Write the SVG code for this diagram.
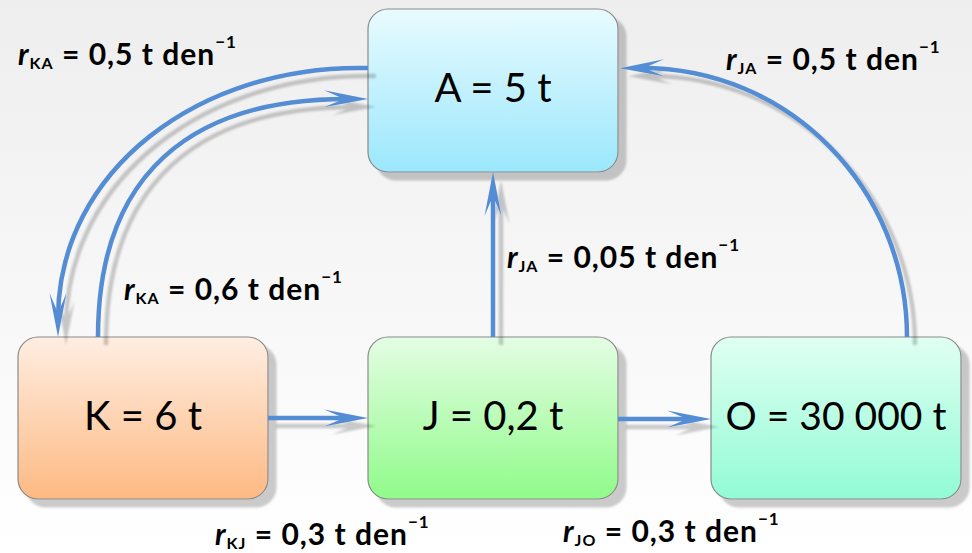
<svg xmlns="http://www.w3.org/2000/svg" width="972" height="553" viewBox="0 0 972 553">
<defs>
  <linearGradient id="bg" x1="0" y1="0" x2="0" y2="1"><stop offset="0" stop-color="#eeeeee"/><stop offset="1" stop-color="#ffffff"/></linearGradient>
  <linearGradient id="gA" x1="0" y1="0" x2="0" y2="1"><stop offset="0" stop-color="#e8fbff"/><stop offset="1" stop-color="#9be7fc"/></linearGradient>
  <linearGradient id="gK" x1="0" y1="0" x2="0" y2="1"><stop offset="0" stop-color="#ffeee2"/><stop offset="1" stop-color="#fdb983"/></linearGradient>
  <linearGradient id="gJ" x1="0" y1="0" x2="0" y2="1"><stop offset="0" stop-color="#e4fde4"/><stop offset="1" stop-color="#90fb8a"/></linearGradient>
  <linearGradient id="gO" x1="0" y1="0" x2="0" y2="1"><stop offset="0" stop-color="#e0fff3"/><stop offset="1" stop-color="#92fbd6"/></linearGradient>
  <filter id="sh" filterUnits="userSpaceOnUse" x="0" y="0" width="972" height="553">
    <feGaussianBlur in="SourceAlpha" stdDeviation="1"/>
    <feOffset dx="8" dy="8"/>
    <feComponentTransfer><feFuncA type="linear" slope="0.2"/></feComponentTransfer>
    <feMerge><feMergeNode/><feMergeNode in="SourceGraphic"/></feMerge>
  </filter>
  <marker id="ah" markerUnits="userSpaceOnUse" markerWidth="46" markerHeight="20" refX="26" refY="9" orient="auto" overflow="visible">
    <path d="M44,9 L0,0.5 L20,9 L0,17.5 Z" fill="#548dd4"/>
  </marker>
</defs>
<style>
  .box{stroke:#8a8a8a;stroke-width:1.2}
  .nt{font-family:Lato,"Open Sans",sans-serif;font-size:40px;fill:#000;text-anchor:middle}
  .con{fill:none;stroke:#548dd4;stroke-width:4.5;marker-end:url(#ah)}
  .lb{font-family:Lato,"Open Sans",sans-serif;font-weight:bold;font-size:30px;letter-spacing:1px;fill:#000}
  .r{font-style:italic}
  .sub{font-size:16px}
  .sup{font-size:17px}
</style>
<rect x="0" y="0" width="972" height="553" fill="url(#bg)"/>

<g id="node-A">
  <rect class="box" x="368" y="9" width="250" height="163" rx="20" fill="url(#gA)" filter="url(#sh)"/>
  <text class="nt" x="493" y="102">A = 5 t</text>
</g>
<g id="node-K">
  <rect class="box" x="18" y="337" width="250" height="162" rx="20" fill="url(#gK)" filter="url(#sh)"/>
  <text class="nt" x="143" y="430">K = 6 t</text>
</g>
<g id="node-J">
  <rect class="box" x="368" y="337" width="250" height="162" rx="20" fill="url(#gJ)" filter="url(#sh)"/>
  <text class="nt" x="493" y="430">J = 0,2 t</text>
</g>
<g id="node-O">
  <rect class="box" x="711" y="337" width="250" height="162" rx="20" fill="url(#gO)" filter="url(#sh)"/>
  <text class="nt" x="836" y="430" style="font-size:39px">O = 30 000 t</text>
</g>

<g id="connectors" filter="url(#sh)">
  <path class="con" d="M268,418 H350"/>
  <path class="con" d="M618,419 H693"/>
  <path class="con" d="M493,337 V190"/>
  <path class="con" d="M368,68 C200,64 58,170 58,319"/>
  <path class="con" d="M98,337 C98,175 190,98 350,99"/>
  <path class="con" d="M907,337 C907,190 790,66 638,68"/>
</g>

<g id="labels">
  <text class="lb" x="18" y="65"><tspan class="r">r</tspan><tspan class="sub" dy="4">KA</tspan><tspan dy="-4"> = 0,5 t den</tspan><tspan class="sup" dy="-17">−1</tspan></text>
  <text class="lb" x="726" y="70"><tspan class="r">r</tspan><tspan class="sub" dy="4">JA</tspan><tspan dy="-4"> = 0,5 t den</tspan><tspan class="sup" dy="-17">−1</tspan></text>
  <text class="lb" x="124" y="300"><tspan class="r">r</tspan><tspan class="sub" dy="4">KA</tspan><tspan dy="-4"> = 0,6 t den</tspan><tspan class="sup" dy="-17">−1</tspan></text>
  <text class="lb" x="507" y="268"><tspan class="r">r</tspan><tspan class="sub" dy="4">JA</tspan><tspan dy="-4"> = 0,05 t den</tspan><tspan class="sup" dy="-17">−1</tspan></text>
  <text class="lb" x="215" y="545"><tspan class="r">r</tspan><tspan class="sub" dy="4">KJ</tspan><tspan dy="-4"> = 0,3 t den</tspan><tspan class="sup" dy="-17">−1</tspan></text>
  <text class="lb" x="563" y="542"><tspan class="r">r</tspan><tspan class="sub" dy="4">JO</tspan><tspan dy="-4"> = 0,3 t den</tspan><tspan class="sup" dy="-17">−1</tspan></text>
</g>
</svg>
